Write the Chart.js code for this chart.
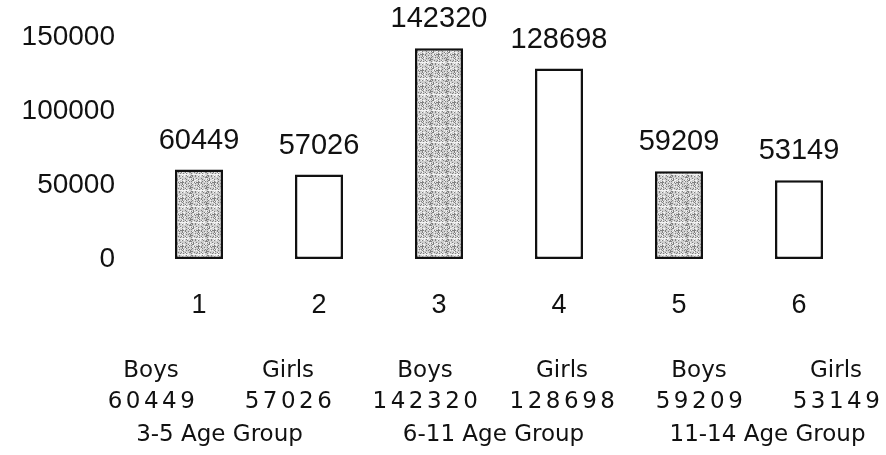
<!DOCTYPE html>
<html>
<head>
<meta charset="utf-8">
<script src="https://cdn.jsdelivr.net/npm/chart.js@4"></script>
<style>
  html, body { margin: 0; padding: 0; background: #fff; }
  canvas { display: block; }
</style>
</head>
<body>
<canvas id="myChart" width="886" height="455"></canvas>
<script>
// chart data
var categories = ["1", "2", "3", "4", "5", "6"];
var values = [60449, 57026, 142320, 128698, 59209, 53149];
var genders = ["Boys", "Girls", "Boys", "Girls", "Boys", "Girls"];
var groupNames = ["3-5 Age Group", "6-11 Age Group", "11-14 Age Group"];
var yTicks = [0, 50000, 100000, 150000];

// speckled grey fill for the boys bars
function speckle() {
  var c = document.createElement("canvas");
  c.width = 16; c.height = 16;
  var g = c.getContext("2d");
  g.fillStyle = "#cfcfcf";
  g.fillRect(0, 0, 16, 16);
  for (var y = 0; y < 16; y++) {
    for (var x = 0; x < 16; x++) {
      var h = (x * 37 + y * 91 + ((x * y) % 13) * 7) % 11;
      if (h < 3) { g.fillStyle = "#808080"; g.fillRect(x, y, 1, 1); }
      else if (h > 8) { g.fillStyle = "#f2f2f2"; g.fillRect(x, y, 1, 1); }
    }
  }
  return g.createPattern(c, "repeat");
}
var boysFill = speckle();
var fills = genders.map(function (g) { return g === "Boys" ? boysFill : "#ffffff"; });

var ink = "#111111";

var valueLabels = {
  id: "valueLabels",
  afterDatasetsDraw: function (chart) {
    var ctx = chart.ctx;
    var meta = chart.getDatasetMeta(0);
    ctx.save();
    ctx.fillStyle = ink;
    ctx.font = "29px 'Liberation Sans', Arial, sans-serif";
    ctx.textAlign = "center";
    ctx.textBaseline = "alphabetic";
    meta.data.forEach(function (bar, i) {
      ctx.fillText(String(values[i]), bar.x, bar.y - 21);
    });
    ctx.restore();
  }
};

// the little table under the axis
var bottomTable = {
  id: "bottomTable",
  afterDraw: function (chart) {
    var ctx = chart.ctx;
    var left = 151, step = 137;
    ctx.save();
    ctx.fillStyle = ink;
    ctx.textAlign = "center";
    ctx.textBaseline = "alphabetic";
    ctx.font = "23px 'DejaVu Sans', sans-serif";
    genders.forEach(function (g, i) {
      ctx.fillText(g, left + step * i, 377);
    });
    ctx.font = "23px 'DejaVu Sans', sans-serif";
    ctx.letterSpacing = "3.5px";
    values.forEach(function (v, i) {
      ctx.fillText(String(v), left + step * i + 2, 408);
    });
    ctx.letterSpacing = "0px";
    ctx.font = "23px 'DejaVu Sans', sans-serif";
    groupNames.forEach(function (n, i) {
      ctx.fillText(n, left + step * (2 * i) + step / 2, 441);
    });
    ctx.restore();
  }
};

var ctx = document.getElementById("myChart");
var myChart = new Chart(ctx, {
  type: "bar",
  data: {
    labels: categories,
    datasets: [{
      data: values,
      backgroundColor: fills,
      borderColor: ink,
      borderWidth: 2.5,
      borderSkipped: false,
      barPercentage: 0.4,
      categoryPercentage: 1.0
    }]
  },
  options: {
    responsive: false,
    animation: false,
    devicePixelRatio: 1,
    layout: { padding: { top: 37, right: 27, bottom: 136, left: 0 } },
    plugins: {
      legend: { display: false },
      tooltip: { enabled: false }
    },
    scales: {
      x: {
        grid: { display: false, drawTicks: false },
        border: { display: false },
        ticks: {
          color: ink,
          padding: 30,
          font: { family: "'Liberation Sans', Arial, sans-serif", size: 27 }
        },
        afterFit: function (s) { s.height = 60; }
      },
      y: {
        min: 0,
        max: 150000,
        grid: { display: false, drawTicks: false },
        border: { display: false },
        afterBuildTicks: function (s) {
          s.ticks = yTicks.map(function (v) { return { value: v }; });
        },
        afterFit: function (s) {
          s.width = 139;
          s.paddingTop = 0;
          s.paddingBottom = 0;
        },
        ticks: {
          color: ink,
          padding: 24,
          font: { family: "'Liberation Sans', Arial, sans-serif", size: 28 },
          callback: function (v) { return String(v); }
        }
      }
    }
  },
  plugins: [valueLabels, bottomTable]
});
</script>
</body>
</html>
